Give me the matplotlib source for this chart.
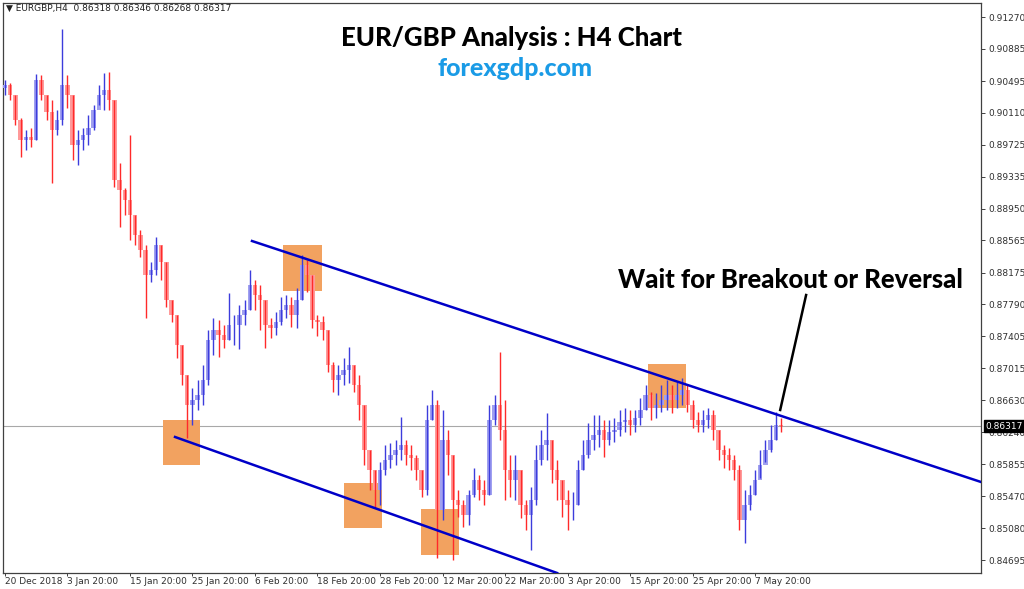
import matplotlib
matplotlib.use("Agg")
import matplotlib.pyplot as plt
from matplotlib.patches import Rectangle
import numpy as np

# ---------------- data (EURGBP H4, each candle = 4 H4 bars) ----------------
first_open = 0.90411
close = [0.90447, 0.90326, 0.90023, 0.89781, 0.89817, 0.89781, 0.90507, 0.90326, 0.90120, 0.89902,
         0.90023, 0.90447, 0.90326, 0.89720, 0.89781, 0.89842, 0.89926, 0.90144, 0.90326, 0.90386,
         0.90265, 0.89296, 0.89175, 0.89054, 0.88873, 0.88631, 0.88449, 0.88146, 0.88207, 0.88510,
         0.88304, 0.87843, 0.87662, 0.87299, 0.86936, 0.86572, 0.86633, 0.86693, 0.86875, 0.87359,
         0.87480, 0.87420, 0.87359, 0.87541, 0.87541, 0.87662, 0.87722, 0.88025, 0.87904, 0.87843,
         0.87541, 0.87505, 0.87577, 0.87722, 0.87783, 0.87662, 0.87843, 0.88268, 0.88146, 0.87601,
         0.87577, 0.87480, 0.87057, 0.86875, 0.86936, 0.86996, 0.87057, 0.86815, 0.86572, 0.86027,
         0.85785, 0.85543, 0.85785, 0.85906, 0.85967, 0.86027, 0.86088, 0.85967, 0.85930, 0.85785,
         0.85543, 0.86390, 0.86572, 0.85301, 0.86148, 0.85967, 0.85422, 0.85361, 0.85240, 0.85483,
         0.85664, 0.85543, 0.85483, 0.86390, 0.86572, 0.86269, 0.85785, 0.85664, 0.85785, 0.85361,
         0.85240, 0.85422, 0.85906, 0.86088, 0.86148, 0.85785, 0.85664, 0.85422, 0.85361, 0.85361,
         0.85785, 0.85967, 0.86148, 0.86209, 0.86269, 0.86148, 0.86245, 0.86269, 0.86366, 0.86390,
         0.86330, 0.86415, 0.86512, 0.86693, 0.86536, 0.86572, 0.86633, 0.86693, 0.86633, 0.86693,
         0.86754, 0.86572, 0.86390, 0.86330, 0.86390, 0.86451, 0.86269, 0.86027, 0.85967, 0.85906,
         0.85785, 0.85180, 0.85361, 0.85483, 0.85664, 0.85846, 0.86027, 0.86148, 0.86330, 0.86317]
high = [0.90507, 0.90471, 0.90326, 0.90047, 0.89902, 0.89926, 0.90580, 0.90568, 0.90326, 0.90265,
        0.90144, 0.91125, 0.90568, 0.90326, 0.89902, 0.89926, 0.90084, 0.90205, 0.90447, 0.90592,
        0.90604, 0.90265, 0.89502, 0.89200, 0.89842, 0.88873, 0.88691, 0.88510, 0.88304, 0.88606,
        0.88510, 0.88304, 0.87843, 0.87662, 0.87299, 0.86936, 0.86778, 0.86875, 0.87057, 0.87480,
        0.87626, 0.87601, 0.87541, 0.87929, 0.87662, 0.87783, 0.87843, 0.88207, 0.88086, 0.88025,
        0.87843, 0.87626, 0.87698, 0.87880, 0.87904, 0.87880, 0.87989, 0.88389, 0.88328, 0.88146,
        0.87662, 0.87650, 0.87480, 0.87093, 0.87057, 0.87141, 0.87274, 0.87057, 0.86936, 0.86572,
        0.86027, 0.85785, 0.85882, 0.86088, 0.86112, 0.86148, 0.86427, 0.86148, 0.86088, 0.85967,
        0.85785, 0.86572, 0.86754, 0.86633, 0.86512, 0.86269, 0.85967, 0.85543, 0.85422, 0.85543,
        0.85809, 0.85725, 0.85664, 0.86572, 0.86693, 0.87214, 0.86633, 0.85967, 0.85967, 0.85785,
        0.85422, 0.85580, 0.86088, 0.86269, 0.86475, 0.86148, 0.85906, 0.85664, 0.85543, 0.85519,
        0.85906, 0.86148, 0.86354, 0.86451, 0.86451, 0.86390, 0.86390, 0.86415, 0.86512, 0.86536,
        0.86512, 0.86512, 0.86657, 0.86815, 0.86730, 0.86718, 0.86815, 0.86875, 0.86815, 0.86851,
        0.86900, 0.86815, 0.86633, 0.86488, 0.86512, 0.86536, 0.86512, 0.86269, 0.86088, 0.86052,
        0.85967, 0.85846, 0.85543, 0.85604, 0.85785, 0.86027, 0.86148, 0.86330, 0.86488, 0.86415]
low = [0.90326, 0.90265, 0.89963, 0.89575, 0.89660, 0.89696, 0.89781, 0.90265, 0.90023, 0.89260,
       0.89842, 0.89963, 0.90168, 0.89539, 0.89478, 0.89660, 0.89720, 0.89902, 0.90205, 0.90144,
       0.90144, 0.89212, 0.88728, 0.88873, 0.88570, 0.88510, 0.88364, 0.87626, 0.88062, 0.88146,
       0.88086, 0.87759, 0.87577, 0.87141, 0.86815, 0.86173, 0.86330, 0.86512, 0.86572, 0.86815,
       0.87178, 0.87153, 0.87262, 0.87359, 0.87299, 0.87250, 0.87541, 0.87722, 0.87722, 0.87480,
       0.87262, 0.87383, 0.87420, 0.87541, 0.87626, 0.87517, 0.87505, 0.87843, 0.87941, 0.87505,
       0.87408, 0.87359, 0.86972, 0.86730, 0.86693, 0.86815, 0.86839, 0.86730, 0.86390, 0.85846,
       0.85543, 0.85337, 0.85361, 0.85725, 0.85809, 0.85846, 0.85906, 0.85846, 0.85785, 0.85664,
       0.85459, 0.85483, 0.86390, 0.84720, 0.85180, 0.85725, 0.84695, 0.85216, 0.85095, 0.85119,
       0.85459, 0.85422, 0.85361, 0.85483, 0.86330, 0.86148, 0.85422, 0.85459, 0.85422, 0.85204,
       0.85059, 0.84816, 0.85361, 0.85846, 0.85906, 0.85628, 0.85422, 0.85216, 0.85059, 0.85180,
       0.85361, 0.85785, 0.85930, 0.86027, 0.86064, 0.85943, 0.86088, 0.86124, 0.86197, 0.86245,
       0.86209, 0.86245, 0.86330, 0.86512, 0.86390, 0.86415, 0.86488, 0.86512, 0.86475, 0.86536,
       0.86572, 0.86488, 0.86294, 0.86245, 0.86245, 0.86294, 0.86148, 0.85906, 0.85809, 0.85785,
       0.85664, 0.85059, 0.84901, 0.85301, 0.85483, 0.85688, 0.85882, 0.86003, 0.86148, 0.86245]
bars_per_candle = 4

x_tick_bars = [0, 48, 96, 144, 192, 240, 288, 336, 384, 432, 480, 528, 576]
x_tick_labels = ["20 Dec 2018", "3 Jan 20:00", "15 Jan 20:00", "25 Jan 20:00", "6 Feb 20:00",
                 "18 Feb 20:00", "28 Feb 20:00", "12 Mar 20:00", "22 Mar 20:00", "3 Apr 20:00",
                 "15 Apr 20:00", "25 Apr 20:00", "7 May 20:00"]
y_ticks = [0.91270, 0.90885, 0.90495, 0.90110, 0.89725, 0.89335, 0.88950, 0.88565, 0.88175,
           0.87790, 0.87405, 0.87015, 0.86630, 0.86240, 0.85855, 0.85470, 0.85080, 0.84695]
last_price = 0.86317
header = "EURGBP,H4  0.86318 0.86346 0.86268 0.86317"

# channel lines (bar index, price)
upper_line = [(189.7, 0.88558), (749.5, 0.85640)]
lower_line = [(130.6, 0.86185), (424.0, 0.84538)]
pointer_line = [(615.2, 0.87904), (595.3, 0.86512)]
# highlight boxes (bar0, bar1, price_low, price_high)
boxes = [(121.4, 149.8, 0.85846, 0.86390),
         (213.6, 243.5, 0.87953, 0.88510),
         (260.4, 289.6, 0.85083, 0.85628),
         (319.5, 348.7, 0.84756, 0.85313),
         (493.9, 523.1, 0.86536, 0.87069)]

# ---------------- figure ----------------
fig = plt.figure(figsize=(10.24, 5.89), dpi=100)
ax = fig.add_axes([3 / 1024, 16 / 589, 978 / 1024, 570 / 589])
ax.set_xlim(-1.5, 749.5)
ax.set_ylim(0.84538, 0.91440)

opens = [first_open] + close[:-1]
xs = np.arange(len(close)) * bars_per_candle
for x, o, h, l, c in zip(xs, opens, high, low, close):
    up = c >= o
    wick = "#3c3cdc" if up else "#ff2a2a"
    body = "#a0a0f0" if up else "#ff9a9a"
    ax.bar(x, abs(c - o) if abs(c - o) > 0 else 0.00003, bottom=min(o, c), width=3.4,
           color=body, linewidth=0, zorder=3)
    ax.vlines(x, l, h, color=wick, linewidth=1.0, zorder=4)

for b0, b1, p0, p1 in boxes:
    ax.add_patch(Rectangle((b0, p0), b1 - b0, p1 - p0, facecolor="#f2a260",
                           edgecolor="none", zorder=2))

ax.plot([p[0] for p in upper_line], [p[1] for p in upper_line], color="#0000c8", lw=1.8, zorder=5)
ax.plot([p[0] for p in lower_line], [p[1] for p in lower_line], color="#0000c8", lw=1.8, zorder=5)
ax.plot([p[0] for p in pointer_line], [p[1] for p in pointer_line], color="black", lw=1.8, zorder=5)

ax.axhline(last_price, color="#a8a8a8", lw=0.8, zorder=1)

# axes styling
for s in ["left", "top", "bottom", "right"]:
    ax.spines[s].set_color("#404040")
    ax.spines[s].set_linewidth(0.9)
ax.yaxis.tick_right()
ax.set_yticks(y_ticks)
ax.set_yticklabels([f"{v:.5f}" for v in y_ticks], fontsize=6.5, color="#303030")
ax.set_xticks(x_tick_bars)
ax.set_xticklabels(x_tick_labels, fontsize=6.5, color="#303030", ha="left")
ax.tick_params(axis="y", length=3, width=0.7, color="#404040", pad=2)
ax.tick_params(axis="x", length=2, width=0.7, color="#404040", pad=0.8)

# last price tag
ax.text(1.004, last_price, f"{last_price:.5f}", transform=ax.get_yaxis_transform(),
        fontsize=6.5, color="white", va="center", ha="left",
        bbox=dict(boxstyle="square,pad=0.15", facecolor="black", edgecolor="black"), zorder=10,
        clip_on=False)

fig.text(6 / 1024, 1 - 8 / 589, "\u25BC " + header, fontsize=6.5, color="#202020",
         va="center", ha="left")

fig.text(511 / 1024, 1 - 38 / 589, "EUR/GBP Analysis : H4 Chart", fontsize=18.5,
         fontweight="black", family="Lato", color="black", ha="center", va="center")
fig.text(515 / 1024, 1 - 68 / 589, "forexgdp.com", fontsize=18, fontweight="black",
         family="Lato", color="#1a9be6", ha="center", va="center")
fig.text(790 / 1024, 1 - 280 / 589, "Wait for Breakout or Reversal", fontsize=18.5,
         fontweight="black", family="Lato", color="black", ha="center", va="center")

fig.savefig("out.png", dpi=100, facecolor="white")
